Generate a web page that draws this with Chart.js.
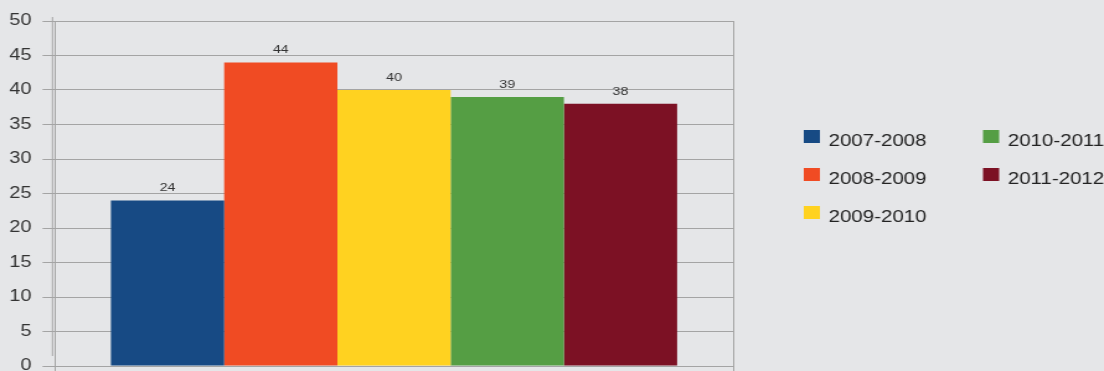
<!DOCTYPE html>
<html>
<head>
<meta charset="utf-8">
<title>Seasons bar chart</title>
<script src="https://cdn.jsdelivr.net/npm/chart.js"></script>
<style>
  html, body { margin: 0; padding: 0; background: #e5e6e8; overflow: hidden; }
  /* the original picture is stretched sideways, so draw narrow and stretch */
  #wrap { width: 890px; height: 371px; transform: scaleX(1.2404); transform-origin: 0 0; }
</style>
</head>
<body>
<div id="wrap"><canvas id="chart" width="890" height="371"></canvas></div>
<script>
// -------------------------------
// DATA
// -------------------------------
const categories = [""];
const seasons = ["2007-2008", "2008-2009", "2009-2010", "2010-2011", "2011-2012"];
const seasonValues = [24, 44, 40, 39, 38];
const seasonColors = ["#174a84", "#f04b23", "#ffd220", "#559e44", "#7c1124"];
const yTickMin = 0;
const yTickMax = 50;
const yTickStep = 5;

const FONT = "'Liberation Sans', Arial, sans-serif";
const GRID = "#a4a4a4";

// value labels above each bar
const valueLabels = {
  id: "valueLabels",
  afterDatasetsDraw(chart) {
    const ctx = chart.ctx;
    ctx.save();
    ctx.font = "11.5px " + FONT;
    ctx.fillStyle = "#333";
    ctx.textAlign = "center";
    ctx.textBaseline = "alphabetic";
    chart.data.datasets.forEach((ds, i) => {
      chart.getDatasetMeta(i).data.forEach((bar, j) => {
        ctx.fillText(String(ds.data[j]), bar.x, bar.y - 9);
      });
    });
    ctx.restore();
  }
};

// two-column legend on the right
const sideLegend = {
  id: "sideLegend",
  afterDraw(chart) {
    const ctx = chart.ctx;
    const colX = [648, 792.5];
    const rowTop = [130, 168, 206];
    ctx.save();
    ctx.font = "16.5px " + FONT;
    ctx.textBaseline = "alphabetic";
    chart.data.datasets.forEach((ds, i) => {
      const col = i < 3 ? 0 : 1;
      const row = i < 3 ? i : i - 3;
      const x = colX[col];
      const y = rowTop[row];
      ctx.fillStyle = ds.backgroundColor;
      ctx.fillRect(x, y, 13, 13);
      ctx.fillStyle = "#222";
      ctx.fillText(ds.label, x + 20, y + 16);
    });
    ctx.restore();
  }
};

// second line just left of the y axis (the original shows a double line)
const axisDouble = {
  id: "axisDouble",
  afterDraw(chart) {
    const ctx = chart.ctx;
    const a = chart.chartArea;
    ctx.save();
    ctx.strokeStyle = GRID;
    ctx.lineWidth = 1;
    ctx.beginPath();
    ctx.moveTo(a.left - 2, 17);
    ctx.lineTo(a.left - 2, a.bottom - 10);
    ctx.stroke();
    ctx.restore();
  }
};

const datasets = seasons.map((label, i) => ({
  label: label,
  data: [seasonValues[i]],
  backgroundColor: seasonColors[i],
  borderWidth: 0,
  barPercentage: 1,
  categoryPercentage: 0.835
}));

new Chart(document.getElementById("chart"), {
  type: "bar",
  data: { labels: categories, datasets: datasets },
  options: {
    responsive: false,
    devicePixelRatio: 1,
    animation: false,
    layout: { padding: { left: 0, top: 21, right: 299, bottom: 0 } },
    plugins: {
      legend: { display: false },
      tooltip: { enabled: false }
    },
    scales: {
      x: {
        offset: true,
        ticks: { display: false },
        grid: { color: GRID, tickLength: 5, drawTicks: true },
        border: { color: GRID },
        afterFit: (s) => { s.height = 5; s.paddingLeft = 0; s.paddingRight = 0; }
      },
      y: {
        min: yTickMin,
        max: yTickMax,
        ticks: {
          stepSize: yTickStep,
          color: "#333",
          padding: 9,
          font: { family: FONT, size: 16 }
        },
        grid: { color: GRID, tickLength: 10 },
        border: { color: GRID },
        afterFit: (s) => { s.width = 44.3; s.paddingTop = 0; s.paddingBottom = 0; }
      }
    }
  },
  plugins: [valueLabels, sideLegend, axisDouble]
});
</script>
</body>
</html>
